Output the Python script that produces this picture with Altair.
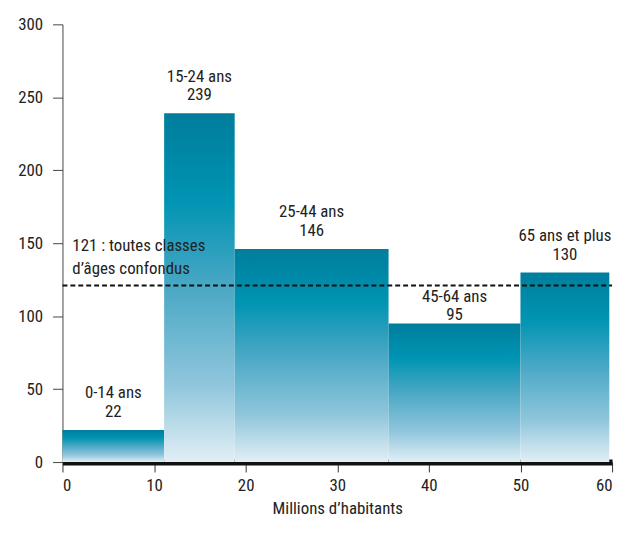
import altair as alt
import pandas as pd

groups = ["0-14 ans", "15-24 ans", "25-44 ans", "45-64 ans", "65 ans et plus"]
starts = [0, 11.1, 18.8, 35.6, 50.0]
ends = [11.1, 18.8, 35.6, 50.0, 59.7]
values = [22, 239, 146, 95, 130]
average = 121
avg_lines = ["121 : toutes classes", "d\u2019âges confondus"]

df = pd.DataFrame({"group": groups, "x0": starts, "x1": ends, "v": values})
df["mid"] = (df["x0"] + df["x1"]) / 2
df["vlabel"] = df["v"].astype(str)

FONT = "Roboto Condensed, Roboto"
TXT = "#222222"
FS = 17

W, H = 555, 442

xs = alt.Scale(domain=[0, 60], nice=False)
ys = alt.Scale(domain=[0, 300], nice=False)

grad = alt.Gradient(
    gradient="linear",
    stops=[
        alt.GradientStop(color="#007d9c", offset=0),
        alt.GradientStop(color="#0094b3", offset=0.25),
        alt.GradientStop(color="#4aa8c5", offset=0.5),
        alt.GradientStop(color="#90c6dc", offset=0.78),
        alt.GradientStop(color="#e2eff5", offset=1),
    ],
    x1=0, x2=0, y1=0, y2=1,
)

base = alt.Chart(df)

bars = base.mark_bar(color=grad).encode(
    x=alt.X("x0:Q", scale=xs, title="Millions d\u2019habitants",
            axis=alt.Axis(values=[0, 10, 20, 30, 40, 50, 60], grid=False,
                          domainColor="#111111", domainWidth=6,
                          tickColor="#333333", tickSize=10, tickWidth=1,
                          labelFont=FONT, labelFontSize=FS, labelColor=TXT,
                          labelPadding=6, titleFont=FONT, titleFontSize=17,
                          titleFontWeight="normal", titleColor=TXT, titlePadding=7)),
    x2="x1:Q",
    y=alt.Y("v:Q", scale=ys, title=None,
            axis=alt.Axis(values=[0, 50, 100, 150, 200, 250, 300], grid=False,
                          domainColor="#444444", domainWidth=1,
                          tickColor="#444444", tickSize=10, tickWidth=1,
                          labelFont=FONT, labelFontSize=FS, labelColor=TXT,
                          labelPadding=10)),
    y2=alt.datum(0),
)

normal = base.transform_filter(alt.datum.group != "45-64 ans")
special = base.transform_filter(alt.datum.group == "45-64 ans")

def labels(src, dname, dval):
    n = src.mark_text(font=FONT, fontSize=FS, color=TXT, dy=dname, baseline="middle").encode(
        x=alt.X("mid:Q", scale=xs), y=alt.Y("v:Q", scale=ys), text="group:N")
    v = src.mark_text(font=FONT, fontSize=FS, color=TXT, dy=dval, baseline="middle").encode(
        x=alt.X("mid:Q", scale=xs), y=alt.Y("v:Q", scale=ys), text="vlabel:N")
    return n + v

lab1 = labels(normal, -37, -18)
lab2 = labels(special, -27, -8)

avg_df = pd.DataFrame({"a": [average]})
rule = alt.Chart(avg_df).mark_rule(color="#111111", strokeWidth=2, strokeDash=[5, 3]).encode(
    y=alt.Y("a:Q", scale=ys), x=alt.value(0), x2=alt.value(W))

ann_df = pd.DataFrame({"t": avg_lines, "yy": [average, average]})
ann1 = alt.Chart(ann_df.iloc[[0]]).mark_text(font=FONT, fontSize=FS, color=TXT, align="left",
                                               baseline="middle", dy=-40).encode(
    x=alt.value(10), y=alt.Y("yy:Q", scale=ys), text="t:N")
ann2 = alt.Chart(ann_df.iloc[[1]]).mark_text(font=FONT, fontSize=FS, color=TXT, align="left",
                                               baseline="middle", dy=-17).encode(
    x=alt.value(10), y=alt.Y("yy:Q", scale=ys), text="t:N")

chart = (bars + rule + lab1 + lab2 + ann1 + ann2).properties(
    width=W, height=H,
    autosize=alt.AutoSizeParams(type="none"),
    padding={"left": 55, "top": 14, "right": 7, "bottom": 56},
).configure_view(stroke=None)

chart.save("out.html", embed_options={"renderer": "svg", "actions": False})
